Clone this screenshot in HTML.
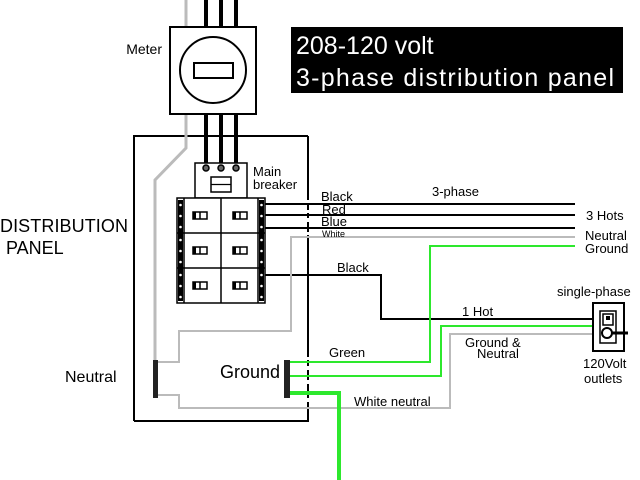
<!DOCTYPE html>
<html><head><meta charset="utf-8"><style>
html,body{margin:0;padding:0;background:#fff;}
svg{display:block;font-family:"Liberation Sans",Arial,sans-serif;}
</style></head><body>
<svg width="640" height="480" viewBox="0 0 640 480" xmlns="http://www.w3.org/2000/svg">
<rect width="640" height="480" fill="#fff"/>
<rect x="291" y="27" width="332" height="66" fill="#000"/>
<text x="296" y="54" font-size="25" fill="#fff">208-120 volt</text>
<text x="296" y="86" font-size="25" fill="#fff" textLength="318">3-phase distribution panel</text>
<text x="162" y="54" font-size="14" text-anchor="end" fill="#000">Meter</text>
<text x="0" y="232" font-size="18" fill="#000" textLength="128">DISTRIBUTION</text>
<text x="6" y="254" font-size="18" fill="#000">PANEL</text>
<text x="65" y="382" font-size="16" fill="#000">Neutral</text>
<text x="220" y="378" font-size="18" fill="#000">Ground</text>
<path d="M134 421 V136 H308" fill="none" stroke="#000" stroke-width="2"/>
<path d="M134 421 H308 V136" fill="none" stroke="#000" stroke-width="2"/>
<path d="M186 0 V27 M186 114 V148 L155 180 V360" fill="none" stroke="#bbb" stroke-width="3"/>
<g stroke="#000" stroke-width="4"><line x1="206" y1="0" x2="206" y2="27"/><line x1="221" y1="0" x2="221" y2="27"/><line x1="236" y1="0" x2="236" y2="27"/>
<line x1="206" y1="114" x2="206" y2="168"/><line x1="221" y1="114" x2="221" y2="168"/><line x1="236" y1="114" x2="236" y2="168"/></g>
<rect x="170" y="27" width="86" height="87" fill="#fff" stroke="#000" stroke-width="2"/>
<ellipse cx="213" cy="70" rx="33" ry="33" fill="none" stroke="#000" stroke-width="2"/>
<rect x="194" y="63" width="39" height="15" fill="none" stroke="#000" stroke-width="2"/>
<rect x="195" y="163" width="52" height="35" fill="#fff" stroke="#000" stroke-width="1.5"/>
<g fill="#666" stroke="#000" stroke-width="1.5"><circle cx="206" cy="168" r="3"/><circle cx="221" cy="168" r="3"/><circle cx="236" cy="168" r="3"/></g>
<rect x="211" y="177" width="20" height="15" fill="none" stroke="#000" stroke-width="1.5"/>
<line x1="211" y1="184.5" x2="231" y2="184.5" stroke="#000" stroke-width="1.2"/>
<text x="253" y="176" font-size="13">Main</text>
<text x="253" y="189" font-size="13">breaker</text>
<rect x="177" y="198" width="88" height="105" fill="#fff" stroke="#000" stroke-width="1.5"/>
<g stroke="#000" stroke-width="1.5" fill="none">
<line x1="184" y1="198" x2="184" y2="303"/><line x1="258" y1="198" x2="258" y2="303"/>
<line x1="221" y1="198" x2="221" y2="303"/>
<line x1="177" y1="233" x2="265" y2="233"/><line x1="177" y1="268" x2="265" y2="268"/>
</g>
<g fill="#000">
<rect x="178" y="200" width="5" height="101"/><rect x="259" y="200" width="5" height="101"/>
</g>
<g fill="#fff">
<circle cx="180.5" cy="205" r="1.3"/><circle cx="180.5" cy="216" r="1.3"/><circle cx="180.5" cy="227" r="1.3"/><circle cx="180.5" cy="240" r="1.3"/><circle cx="180.5" cy="251" r="1.3"/><circle cx="180.5" cy="262" r="1.3"/><circle cx="180.5" cy="275" r="1.3"/><circle cx="180.5" cy="286" r="1.3"/><circle cx="180.5" cy="297" r="1.3"/>
<circle cx="261.5" cy="205" r="1.3"/><circle cx="261.5" cy="216" r="1.3"/><circle cx="261.5" cy="227" r="1.3"/><circle cx="261.5" cy="240" r="1.3"/><circle cx="261.5" cy="251" r="1.3"/><circle cx="261.5" cy="262" r="1.3"/><circle cx="261.5" cy="275" r="1.3"/><circle cx="261.5" cy="286" r="1.3"/><circle cx="261.5" cy="297" r="1.3"/>
</g>
<g fill="none" stroke="#000" stroke-width="1.5">
<rect x="193" y="212" width="14" height="7"/><rect x="233" y="212" width="14" height="7"/>
<rect x="193" y="247" width="14" height="7"/><rect x="233" y="247" width="14" height="7"/>
<rect x="193" y="282" width="14" height="7"/><rect x="233" y="282" width="14" height="7"/>
<line x1="200" y1="212" x2="200" y2="219"/><line x1="240" y1="212" x2="240" y2="219"/>
<line x1="200" y1="247" x2="200" y2="254"/><line x1="240" y1="247" x2="240" y2="254"/>
<line x1="200" y1="282" x2="200" y2="289"/><line x1="240" y1="282" x2="240" y2="289"/>
</g>
<g fill="#000"><rect x="193" y="212" width="3" height="7"/><rect x="233" y="212" width="3" height="7"/><rect x="193" y="247" width="3" height="7"/><rect x="233" y="247" width="3" height="7"/><rect x="193" y="282" width="3" height="7"/><rect x="233" y="282" width="3" height="7"/></g>
<g stroke="#fff" stroke-width="3"><line x1="308" y1="200" x2="308" y2="205"/><line x1="308" y1="210" x2="308" y2="213"/><line x1="308" y1="218" x2="308" y2="222"/><line x1="308" y1="232" x2="308" y2="235"/><line x1="308" y1="357" x2="308" y2="360"/><line x1="308" y1="366" x2="308" y2="370"/><line x1="308" y1="380" x2="308" y2="384"/><line x1="308" y1="398" x2="308" y2="402"/></g>
<g stroke="#000" stroke-width="2" fill="none">
<line x1="265" y1="204" x2="575" y2="204"/>
<line x1="265" y1="215" x2="575" y2="215"/>
<line x1="265" y1="228" x2="575" y2="228"/>
<path d="M265 275 H381 V319 H600"/>
</g>
<g stroke="#bbb" stroke-width="2" fill="none">
<path d="M575 237 H291 V331 H179 V362 H158"/>
<path d="M158 395 H179 V408 H450 V334 H600"/>
</g>
<g stroke="#2de82d" fill="none">
<path d="M290 362 H430 V246 H575" stroke-width="2"/>
<path d="M290 376 H441 V326 H600" stroke-width="2"/>
<path d="M290 393 H339 V480" stroke-width="4"/>
</g>
<rect x="153" y="360" width="5" height="38" fill="#222"/>
<rect x="284" y="360" width="6" height="38" fill="#222"/>
<rect x="593" y="303" width="31" height="48" fill="#fff" stroke="#000" stroke-width="2"/>
<rect x="600" y="311" width="16" height="32" fill="none" stroke="#000" stroke-width="1.5"/>
<rect x="603" y="314" width="10" height="11" fill="none" stroke="#000" stroke-width="1.5"/>
<rect x="606" y="316" width="4" height="4" fill="#000"/>
<circle cx="607" cy="333" r="5" fill="#fff" stroke="#000" stroke-width="2"/>
<line x1="612" y1="333" x2="628" y2="333" stroke="#000" stroke-width="3"/>
<g font-size="13" fill="#000">
<text x="321" y="201">Black</text>
<text x="322" y="214">Red</text>
<text x="321" y="226">Blue</text>
<text x="322" y="237" font-size="9">White</text>
<text x="432" y="196">3-phase</text>
<text x="586" y="220">3 Hots</text>
<text x="585" y="240">Neutral</text>
<text x="585" y="253">Ground</text>
<text x="337" y="272">Black</text>
<text x="462" y="316">1 Hot</text>
<text x="465" y="347">Ground &amp;</text>
<text x="477" y="358">Neutral</text>
<text x="557" y="296">single-phase</text>
<text x="583" y="368">120Volt</text>
<text x="584" y="383">outlets</text>
<text x="329" y="357">Green</text>
<text x="354" y="406">White neutral</text>
</g>
</svg>
</body></html>
